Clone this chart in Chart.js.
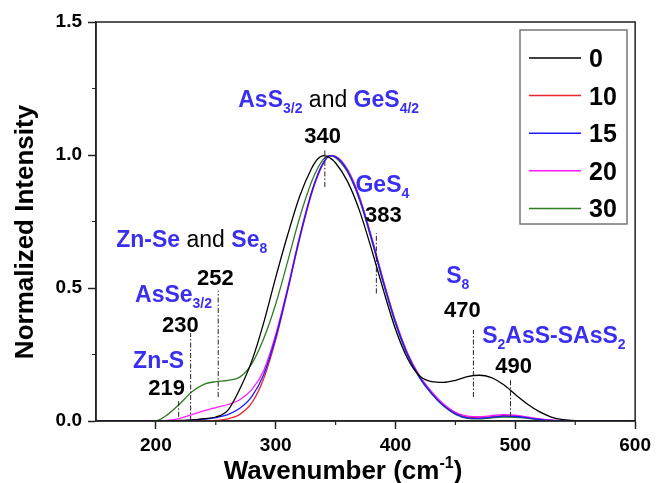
<!DOCTYPE html>
<html>
<head>
<meta charset="utf-8">
<script src="https://cdn.jsdelivr.net/npm/chart.js@4"></script>
<style>
  html, body { margin: 0; padding: 0; background: #fff; }
</style>
</head>
<body>
<canvas id="chart" width="656" height="483"></canvas>
<script>
// Raman spectra
const wavenumber = [150, 160, 170, 180, 190, 200, 210, 220, 230, 240, 250, 260, 270, 280, 290, 300, 310, 320, 330, 335, 340, 345,
  350, 360, 370, 380, 390, 400, 410, 420, 430, 440, 450, 460, 470, 480, 490, 500, 510, 520, 530, 540, 550, 560, 570, 580, 590, 600];

const s0 = [0, 0, 0, 0, 0, 0, 0,
  0.002, 0.004, 0.009, 0.015, 0.04, 0.12, 0.225, 0.37, 0.54, 0.70, 0.845, 0.95,
  0.985, 0.998, 0.99,
  0.97, 0.9, 0.79, 0.645, 0.49, 0.345, 0.235, 0.17, 0.148, 0.145, 0.153, 0.167, 0.172, 0.163, 0.137, 0.1, 0.064, 0.035, 0.015, 0.005, 0.001, 0, 0, 0, 0, 0];

const s10 = [0, 0, 0, 0, 0, 0, 0, 0, 0, 0,
  0.002, 0.008, 0.025, 0.068, 0.16, 0.305, 0.49, 0.685, 0.855,
  0.92, 0.97, 0.998,
  0.995, 0.945, 0.84, 0.69, 0.525, 0.375, 0.255, 0.17, 0.11, 0.062, 0.03, 0.015, 0.012, 0.016, 0.02, 0.019, 0.013, 0.007, 0.003, 0.001, 0, 0, 0, 0, 0, 0];

const s15 = [0, 0, 0, 0, 0, 0, 0,
  0.001, 0.003, 0.007, 0.013, 0.024, 0.048, 0.092, 0.175, 0.315, 0.495, 0.69, 0.86,
  0.925, 0.972, 0.998,
  0.993, 0.94, 0.835, 0.685, 0.52, 0.37, 0.25, 0.165, 0.105, 0.058, 0.027, 0.012, 0.01, 0.014, 0.018, 0.017, 0.012, 0.006, 0.002, 0.001, 0, 0, 0, 0, 0, 0];

const s20 = [0, 0, 0, 0, 0, 0,
  0.002, 0.01, 0.024, 0.038, 0.05, 0.062, 0.08, 0.118, 0.19, 0.325, 0.5, 0.695, 0.862,
  0.926, 0.973, 0.998,
  0.994, 0.943, 0.84, 0.69, 0.525, 0.375, 0.255, 0.17, 0.11, 0.064, 0.033, 0.018, 0.016, 0.02, 0.024, 0.022, 0.015, 0.008, 0.003, 0.001, 0, 0, 0, 0, 0, 0];

const s30 = [0, 0, 0, 0, 0,
  0.001, 0.025, 0.065, 0.11, 0.138, 0.148, 0.153, 0.165, 0.215, 0.31, 0.44, 0.6, 0.765, 0.9,
  0.95, 0.985, 0.998,
  0.99, 0.935, 0.83, 0.68, 0.515, 0.365, 0.245, 0.162, 0.102, 0.056, 0.025, 0.01, 0.008, 0.012, 0.015, 0.014, 0.01, 0.005, 0.002, 0, 0, 0, 0, 0, 0, 0];

const seriesNames = ["0", "10", "15", "20", "30"];
const seriesColors = ["#000000", "#e8262a", "#1a1aff", "#ff1aff", "#2f7d22"];
const seriesOrder = [1, 5, 2, 3, 4];

// dash-dot peak markers: position and vertical extent
const markX = [219, 229, 252, 341, 384, 465, 496];
const markLow = [0.016, 0.0, 0.09, 0.88, 0.48, 0.09, 0.016];
const markHigh = [0.079, 0.33, 0.49, 1.02, 0.707, 0.342, 0.16];

const FONT = '"Liberation Sans", Arial, sans-serif';
const BLUE = "#3a2ff0";

// peak assignment labels (anchor = centre / baseline in data units)
const notes = [
  { x: 344.2, y: 1.182, parts: [["AsS", "b"], ["3/2", "s"], [" and ", "n"], ["GeS", "b"], ["4/2", "s"]] },
  { x: 339.2, y: 1.046, parts: [["340", "k"]] },
  { x: 389, y: 0.862, parts: [["GeS", "b"], ["4", "s"]] },
  { x: 389.8, y: 0.749, parts: [["383", "k"]] },
  { x: 229.9, y: 0.655, parts: [["Zn-Se", "b"], [" and ", "n"], ["Se", "b"], ["8", "s"]] },
  { x: 249.6, y: 0.511, parts: [["252", "k"]] },
  { x: 214.7, y: 0.449, parts: [["AsSe", "b"], ["3/2", "s"]] },
  { x: 220.5, y: 0.336, parts: [["230", "k"]] },
  { x: 202.3, y: 0.199, parts: [["Zn-S", "b"]] },
  { x: 208.9, y: 0.098, parts: [["219", "k"]] },
  { x: 452, y: 0.52, parts: [["S", "b"], ["8", "s"]] },
  { x: 455.8, y: 0.392, parts: [["470", "k"]] },
  { x: 532.2, y: 0.292, parts: [["S", "b"], ["2", "s"], ["AsS-SAsS", "b"], ["2", "s"]] },
  { x: 498.5, y: 0.182, parts: [["490", "k"]] }
];

const partStyle = {
  b: { font: "bold 23px " + FONT, color: BLUE, dy: 0 },
  s: { font: "bold 14px " + FONT, color: BLUE, dy: 6 },
  n: { font: "23px " + FONT, color: "#000", dy: 0 },
  k: { font: "bold 22px " + FONT, color: "#000", dy: 0 }
};

const allSeries = [s0, s10, s15, s20, s30];

const datasets = allSeries.map((ys, i) => ({
  label: seriesNames[i],
  data: wavenumber.map((x, j) => ({ x: x, y: ys[j] })),
  borderColor: seriesColors[i],
  borderWidth: 1.3,
  pointRadius: 0,
  cubicInterpolationMode: "monotone",
  order: seriesOrder[i]
}));

markX.forEach((x, i) => {
  datasets.push({
    label: "mark" + i,
    data: [{ x: x, y: markLow[i] }, { x: x, y: markHigh[i] }],
    borderColor: "#222",
    borderWidth: 1,
    borderDash: [5, 2, 1.5, 2],
    pointRadius: 0,
    order: 0
  });
});

function drawParts(ctx, parts, cx, baseY) {
  let total = 0;
  parts.forEach(p => {
    ctx.font = partStyle[p[1]].font;
    total += ctx.measureText(p[0]).width;
  });
  let x = cx - total / 2;
  parts.forEach(p => {
    const st = partStyle[p[1]];
    ctx.font = st.font;
    ctx.fillStyle = st.color;
    ctx.fillText(p[0], x, baseY + st.dy);
    x += ctx.measureText(p[0]).width;
  });
}

const decorations = {
  id: "decorations",
  afterDraw(chart) {
    const ctx = chart.ctx;
    const area = chart.chartArea;
    const xs = chart.scales.x, ys = chart.scales.y;
    ctx.save();

    // frame
    ctx.strokeStyle = "#222";
    ctx.lineWidth = 1.5;
    ctx.strokeRect(area.left, area.top, area.right - area.left, area.bottom - area.top);

    // minor ticks
    ctx.lineWidth = 1.2;
    ctx.beginPath();
    [250, 350, 450, 550].forEach(v => {
      const px = xs.getPixelForValue(v);
      ctx.moveTo(px, area.bottom);
      ctx.lineTo(px, area.bottom + 4);
    });
    [0.25, 0.75, 1.25].forEach(v => {
      const py = ys.getPixelForValue(v);
      ctx.moveTo(area.left, py);
      ctx.lineTo(area.left - 4, py);
    });
    ctx.stroke();

    // annotations
    ctx.textBaseline = "alphabetic";
    ctx.textAlign = "left";
    notes.forEach(n => {
      drawParts(ctx, n.parts, xs.getPixelForValue(n.x), ys.getPixelForValue(n.y));
    });

    // legend
    ctx.strokeStyle = "#777";
    ctx.lineWidth = 1.5;
    ctx.strokeRect(520, 30, 107, 194);
    seriesNames.forEach((name, i) => {
      const ry = 58 + i * 37.6;
      ctx.strokeStyle = seriesColors[i];
      ctx.lineWidth = 1.5;
      ctx.beginPath();
      ctx.moveTo(529, ry);
      ctx.lineTo(581, ry);
      ctx.stroke();
      ctx.fillStyle = "#000";
      ctx.font = "bold 25px " + FONT;
      ctx.fillText(name, 589, ry + 9);
    });

    // axis titles
    ctx.fillStyle = "#000";
    ctx.font = "bold 26px " + FONT;
    ctx.save();
    ctx.translate(33, 232);
    ctx.rotate(-Math.PI / 2);
    ctx.textAlign = "center";
    ctx.fillText("Normalized Intensity", 0, 0);
    ctx.restore();

    const tParts = [["Wavenumber (cm", 26, 0], ["-1", 16, -11], [")", 26, 0]];
    let tw = 0;
    tParts.forEach(p => { ctx.font = "bold " + p[1] + "px " + FONT; tw += ctx.measureText(p[0]).width; });
    let tx = 343 - tw / 2;
    tParts.forEach(p => {
      ctx.font = "bold " + p[1] + "px " + FONT;
      ctx.fillText(p[0], tx, 479 + p[2]);
      tx += ctx.measureText(p[0]).width;
    });

    ctx.restore();
  }
};

const tickFont = { family: FONT, size: 19, weight: "bold" };

new Chart(document.getElementById("chart"), {
  type: "line",
  data: { datasets: datasets },
  options: {
    responsive: false,
    animation: false,
    devicePixelRatio: 1,
    layout: { padding: { left: 56, right: 18, top: 22, bottom: 27 } },
    plugins: { legend: { display: false }, tooltip: { enabled: false } },
    scales: {
      x: {
        type: "linear",
        min: 150,
        max: 600,
        afterFit: s => { s.height = 35; },
        ticks: { stepSize: 100, includeBounds: false, padding: 5, color: "#000", font: tickFont, maxRotation: 0 },
        grid: { drawOnChartArea: false, drawTicks: true, tickLength: 8, tickWidth: 1.5, tickColor: "#222" },
        border: { color: "#222", width: 1.5 }
      },
      y: {
        min: 0,
        max: 1.5,
        afterFit: s => { s.width = 40; },
        ticks: { stepSize: 0.5, padding: 6, color: "#000", font: tickFont, callback: v => v.toFixed(1) },
        grid: { drawOnChartArea: false, drawTicks: true, tickLength: 8, tickWidth: 1.5, tickColor: "#222" },
        border: { color: "#222", width: 1.5 }
      }
    }
  },
  plugins: [decorations]
});
</script>
</body>
</html>
